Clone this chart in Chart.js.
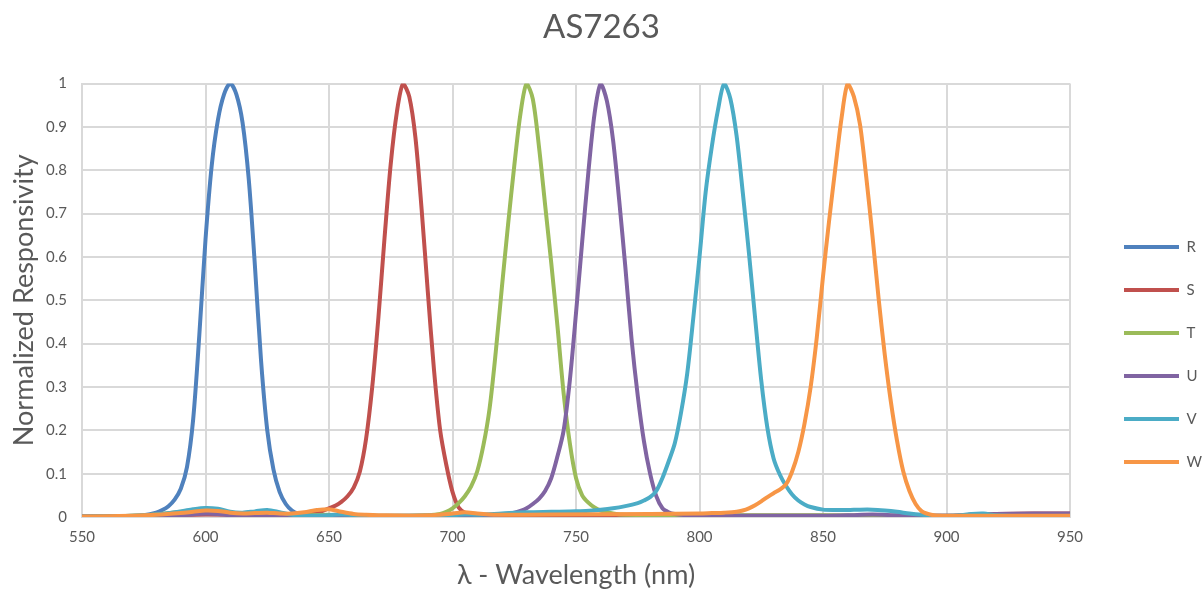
<!DOCTYPE html>
<html>
<head>
<meta charset="utf-8">
<script src="https://cdn.jsdelivr.net/npm/chart.js@4.4.1/dist/chart.umd.min.js"></script>
<style>
html, body { margin: 0; padding: 0; background: #ffffff; }
#wrap { width: 1203px; height: 589px; }
</style>
</head>
<body>
<div id="wrap"><canvas id="spectrumChart"></canvas></div>
<script>
// channel names and Office-style colours
const channelNames = ['R', 'S', 'T', 'U', 'V', 'W'];
const channelColors = ['#4f81bd', '#c0504d', '#9bbb59', '#8064a2', '#4bacc6', '#f79646'];

// each channel: wavelengths (nm), denser around the peak
const rWave = [550, 560, 570, 575, 580, 582.5, 585, 587.5, 590, 592.5, 595, 597.5, 600, 602.5, 605, 607.5, 610, 612.5, 615, 617.5,
    620, 622.5, 625, 627.5, 630, 632.5, 635, 637.5, 640, 645, 650, 700, 750, 800, 850, 900, 950];
const rValue = [0, 0, 0.002, 0.004, 0.01, 0.016, 0.025, 0.04, 0.065, 0.115, 0.225, 0.42, 0.64, 0.81, 0.915, 0.975, 1.0, 0.975, 0.91, 0.78,
    0.58, 0.36, 0.2, 0.11, 0.058, 0.03, 0.015, 0.008, 0.005, 0.003, 0.002, 0.002, 0.002, 0.002, 0.002, 0.002, 0.002];

const sWave = [550, 575, 600, 625, 640, 645, 650, 652.5, 655, 657.5, 660, 662.5, 665, 667.5, 670, 672.5, 675, 677.5, 680, 682.5,
    685, 687.5, 690, 692.5, 695, 697.5, 700, 702.5, 705, 707.5, 710, 720, 750, 800, 850, 900, 910, 920, 935, 950];
const sValue = [0.001, 0.002, 0.006, 0.004, 0.005, 0.009, 0.02, 0.026, 0.035, 0.048, 0.068, 0.105, 0.18, 0.3, 0.46, 0.645, 0.815, 0.935, 1.0, 0.97,
    0.875, 0.71, 0.52, 0.34, 0.2, 0.12, 0.058, 0.022, 0.01, 0.006, 0.005, 0.003, 0.003, 0.003, 0.003, 0.003, 0.005, 0.007, 0.008, 0.008];

const tWave = [550, 570, 580, 590, 600, 605, 610, 620, 625, 630, 640, 650, 660, 680, 690, 695, 697.5, 700, 702.5, 705,
    707.5, 710, 712.5, 715, 717.5, 720, 722.5, 725, 727.5, 730, 732.5, 735, 737.5, 740, 742.5, 745, 747.5, 750, 752.5, 755,
    757.5, 760, 765, 770, 800, 850, 900, 950];
const tValue = [0.001, 0.003, 0.006, 0.012, 0.018, 0.016, 0.01, 0.008, 0.01, 0.008, 0.004, 0.005, 0.003, 0.002, 0.004, 0.007, 0.012, 0.02, 0.032, 0.048,
    0.07, 0.105, 0.165, 0.25, 0.38, 0.53, 0.675, 0.81, 0.93, 1.0, 0.965, 0.855, 0.72, 0.585, 0.44, 0.285, 0.17, 0.09, 0.05, 0.033,
    0.022, 0.015, 0.008, 0.005, 0.004, 0.004, 0.002, 0.002];

const uWave = [550, 580, 590, 600, 605, 610, 620, 640, 700, 715, 720, 725, 727.5, 730, 732.5, 735, 737.5, 740, 742.5, 745,
    747.5, 750, 752.5, 755, 757.5, 760, 762.5, 765, 767.5, 770, 772.5, 775, 777.5, 780, 782.5, 785, 787.5, 790, 795, 800,
    850, 860, 870, 880, 890, 900, 910, 920, 935, 950];
const uValue = [0.001, 0.002, 0.004, 0.008, 0.007, 0.004, 0.003, 0.002, 0.002, 0.004, 0.006, 0.01, 0.014, 0.02, 0.03, 0.042, 0.06, 0.09, 0.14, 0.2,
    0.315, 0.47, 0.635, 0.795, 0.93, 1.0, 0.96, 0.87, 0.73, 0.575, 0.41, 0.28, 0.175, 0.1, 0.048, 0.02, 0.011, 0.007, 0.004, 0.003,
    0.003, 0.004, 0.006, 0.004, 0.003, 0.003, 0.005, 0.007, 0.008, 0.008];

const vWave = [550, 570, 580, 590, 595, 600, 605, 610, 615, 620, 625, 630, 635, 640, 650, 655, 660, 670, 700, 705,
    710, 720, 730, 740, 750, 760, 765, 770, 775, 777.5, 780, 782.5, 785, 787.5, 790, 792.5, 795, 797.5, 800, 802.5,
    805, 807.5, 810, 812.5, 815, 817.5, 820, 822.5, 825, 827.5, 830, 832.5, 835, 837.5, 840, 842.5, 845, 850, 855, 860,
    865, 870, 875, 880, 885, 890, 895, 900, 905, 910, 915, 920, 930, 950];
const vValue = [0.001, 0.003, 0.006, 0.013, 0.018, 0.021, 0.019, 0.012, 0.01, 0.013, 0.016, 0.011, 0.005, 0.003, 0.004, 0.006, 0.004, 0.003, 0.004, 0.006,
    0.005, 0.008, 0.011, 0.012, 0.013, 0.017, 0.02, 0.025, 0.032, 0.038, 0.046, 0.06, 0.09, 0.128, 0.17, 0.24, 0.33, 0.46, 0.6, 0.75,
    0.855, 0.94, 1.0, 0.965, 0.88, 0.75, 0.61, 0.46, 0.315, 0.205, 0.135, 0.098, 0.072, 0.052, 0.038, 0.029, 0.023, 0.017, 0.016, 0.016,
    0.017, 0.017, 0.015, 0.012, 0.008, 0.005, 0.003, 0.003, 0.004, 0.007, 0.008, 0.004, 0.002, 0.002];

const wWave = [550, 570, 580, 590, 595, 600, 605, 610, 615, 620, 625, 630, 635, 640, 645, 650, 655, 660, 665, 670,
    690, 700, 705, 710, 715, 720, 740, 780, 800, 805, 810, 815, 817.5, 820, 822.5, 825, 827.5, 830, 832.5, 835,
    837.5, 840, 842.5, 845, 847.5, 850, 852.5, 855, 857.5, 860, 862.5, 865, 867.5, 870, 872.5, 875, 877.5, 880, 882.5, 885,
    887.5, 890, 892.5, 895, 900, 950];
const wValue = [0.001, 0.003, 0.005, 0.009, 0.012, 0.015, 0.014, 0.01, 0.008, 0.009, 0.01, 0.008, 0.008, 0.011, 0.016, 0.018, 0.012, 0.007, 0.005, 0.004,
    0.004, 0.008, 0.011, 0.008, 0.006, 0.005, 0.006, 0.007, 0.008, 0.009, 0.01, 0.012, 0.015, 0.02, 0.027, 0.036, 0.046, 0.055, 0.063, 0.075,
    0.105, 0.15, 0.215, 0.3, 0.415, 0.555, 0.685, 0.805, 0.92, 1.0, 0.97, 0.905, 0.785, 0.65, 0.505, 0.375, 0.265, 0.175, 0.105, 0.06,
    0.03, 0.013, 0.007, 0.004, 0.003, 0.003];

const allWaves = [rWave, sWave, tWave, uWave, vWave, wWave];
const allValues = [rValue, sValue, tValue, uValue, vValue, wValue];

const xTicks = [550, 600, 650, 700, 750, 800, 850, 900, 950];
const yTicks = [0, 0.1, 0.2, 0.3, 0.4, 0.5, 0.6, 0.7, 0.8, 0.9, 1];

const textColor = '#595959';
const gridColor = '#d9d9d9';
const fontFamily = 'Lato, "Liberation Sans", sans-serif';

function renderSpectrumChart() {
    const ctx = document.getElementById('spectrumChart');

    const datasets = channelNames.map(function(name, i) {
        return {
            label: name,
            data: allWaves[i].map(function(w, j) {
                return { x: w, y: allValues[i][j] };
            }),
            borderColor: channelColors[i],
            backgroundColor: channelColors[i],
            borderWidth: 4,
            borderCapStyle: 'round',
            borderJoinStyle: 'round',
            pointRadius: 0,
            tension: 0.3,
            fill: false,
            // later series drawn on top, like the original
            order: channelNames.length - i
        };
    });

    new Chart(ctx, {
        type: 'line',
        data: {
            datasets: datasets
        },
        options: {
            responsive: true,
            maintainAspectRatio: false,
            animation: false,
            plugins: {
                title: {
                    display: true,
                    text: 'AS7263',
                    color: textColor,
                    font: { family: fontFamily, size: 33, weight: 'normal', lineHeight: 1.2 },
                    padding: { top: 8, bottom: 36 }
                },
                legend: {
                    position: 'right',
                    maxWidth: 107,
                    title: {
                        display: true,
                        text: ' ',
                        font: { size: 30, lineHeight: 1.2 },
                        padding: { top: 84, bottom: 0 }
                    },
                    labels: {
                        usePointStyle: true,
                        pointStyle: 'line',
                        pointStyleWidth: 55,
                        padding: 28,
                        color: textColor,
                        font: { family: fontFamily, size: 15 },
                        sort: function(a, b) {
                            return a.datasetIndex - b.datasetIndex;
                        }
                    }
                },
                tooltip: { enabled: false }
            },
            scales: {
                x: {
                    type: 'linear',
                    min: 550,
                    max: 950,
                    afterBuildTicks: function(axis) {
                        axis.ticks = xTicks.map(function(v) { return { value: v }; });
                    },
                    afterFit: function(axis) {
                        axis.height = 72;
                    },
                    ticks: {
                        color: textColor,
                        font: { family: fontFamily, size: 15 },
                        padding: 11,
                        maxRotation: 0
                    },
                    grid: {
                        color: gridColor,
                        lineWidth: 2,
                        drawTicks: false
                    },
                    border: { color: gridColor, width: 2 },
                    title: {
                        display: true,
                        text: 'λ - Wavelength (nm)',
                        color: textColor,
                        font: { family: fontFamily, size: 27, lineHeight: 1.0 },
                        padding: { top: 12, bottom: 0 }
                    }
                },
                y: {
                    min: 0,
                    max: 1,
                    afterBuildTicks: function(axis) {
                        axis.ticks = yTicks.map(function(v) { return { value: v }; });
                    },
                    afterFit: function(axis) {
                        axis.width = 82;
                    },
                    ticks: {
                        color: textColor,
                        font: { family: fontFamily, size: 15 },
                        padding: 15,
                        callback: function(value) {
                            return String(Number(value.toFixed(1)));
                        }
                    },
                    grid: {
                        color: gridColor,
                        lineWidth: 2,
                        drawTicks: false
                    },
                    border: { color: gridColor, width: 2 },
                    title: {
                        display: true,
                        text: 'Normalized Responsivity',
                        color: textColor,
                        font: { family: fontFamily, size: 27, lineHeight: 1.2 },
                        padding: { top: 8, bottom: 6 }
                    }
                },
                // empty spacer between the plot and the legend
                gap: {
                    position: 'right',
                    display: true,
                    ticks: { display: false },
                    grid: { display: false },
                    border: { display: false },
                    afterFit: function(axis) {
                        axis.width = 26;
                    }
                }
            }
        }
    });
}

renderSpectrumChart();
</script>
</body>
</html>
